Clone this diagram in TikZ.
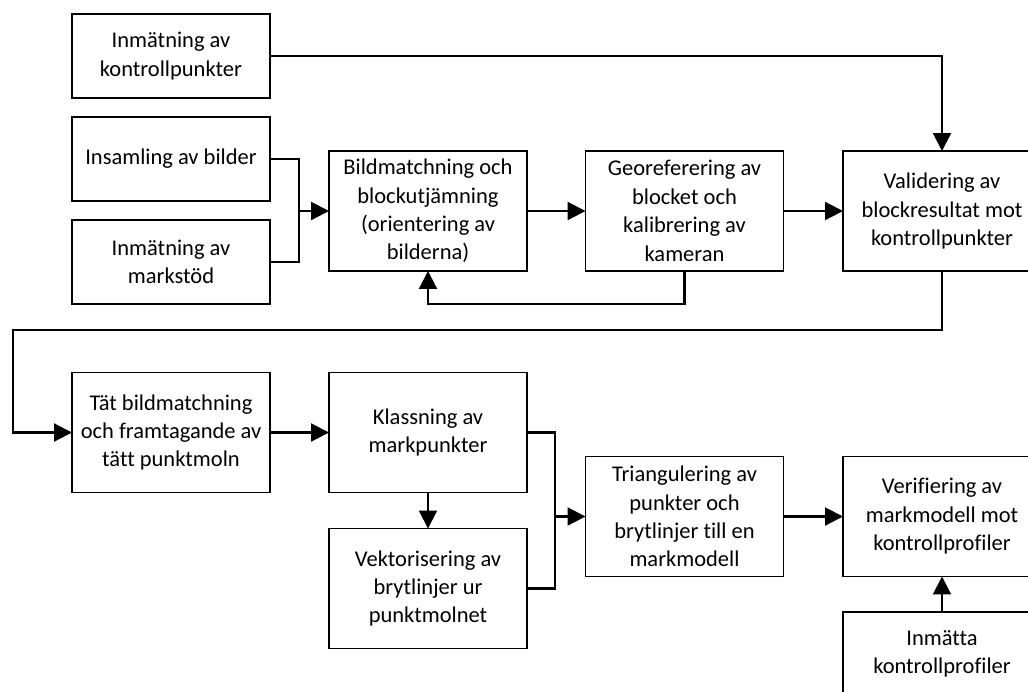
\documentclass[tikz,border=0pt]{standalone}
\usepackage{fontspec}
\setmainfont{Carlito}[Ligatures=NoCommon]
\usetikzlibrary{arrows.meta}
\begin{document}
\begin{tikzpicture}[x=0.02cm,y=-0.02cm,>={Triangle[length=0.36cm,width=0.36cm]},
	font=\fontsize{12.8}{16.2}\selectfont, line join=miter,
	box/.style={draw,line width=0.9pt,align=center,inner sep=0pt,outer sep=0pt,
		minimum width=3.96cm,minimum height=1.68cm},
	tall/.style={box,minimum height=2.4cm},
	line/.style={line width=1.2pt}]
	\useasboundingbox (0,0) rectangle (1028,691);
	\clip (0,0) rectangle (1028,691);
	% indata
	\node[box] (kp) at (171,56) {Inmätning av\\kontrollpunkter};
	\node[box] (bilder) at (171,159) {Insamling av bilder};
	\node[box] (stod) at (171,262) {Inmätning av\\markstöd};
	% blockutjämning
	\node[tall] (bm) at (428,211) {Bildmatchning och\\blockutjämning\\(orientering av\\bilderna)};
	\node[tall] (geo) at (684.5,211) {Georeferering av\\blocket och\\kalibrering av\\kameran};
	\node[tall] (val) at (942,211) {Validering av\\blockresultat mot\\kontrollpunkter};
	% markmodell
	\node[tall] (tat) at (171,432.5) {Tät bildmatchning\\och framtagande av\\tätt punktmoln};
	\node[tall] (klass) at (428,432.5) {Klassning av\\markpunkter};
	\node[tall] (vekt) at (428,588.5) {Vektorisering av\\brytlinjer ur\\punktmolnet};
	\node[tall] (tri) at (684.5,516.5) {Triangulering av\\punkter och\\brytlinjer till en\\markmodell};
	\node[tall] (ver) at (942,516.5) {Verifiering av\\markmodell mot\\kontrollprofiler};
	\node[box] (prof) at (942,654) {Inmätta\\kontrollprofiler};
	\coordinate (j1) at (299,211);
	\coordinate (j2) at (555,516.5);
	\coordinate (k1) at (13,330);
	\draw[line,->] (kp.east) -| (val.north);
	\draw[line] (bilder.east) -| (j1) |- (stod.east);
	\draw[line,->] (j1) -- (bm.west);
	\draw[line,->] (bm) -- (geo);
	\draw[line,->] (geo) -- (val);
	\draw[line,->] (geo.south) -- ++(0,33) -| (bm.south);
	\draw[line,->] (val.south) |- (k1) |- (tat.west);
	\draw[line,->] (tat) -- (klass);
	\draw[line,->] (klass) -- (vekt);
	\draw[line] (klass.east) -| (j2) |- (vekt.east);
	\draw[line,->] (j2) -- (tri.west);
	\draw[line,->] (tri) -- (ver);
	\draw[line,->] (prof) -- (ver);
\end{tikzpicture}
\end{document}
